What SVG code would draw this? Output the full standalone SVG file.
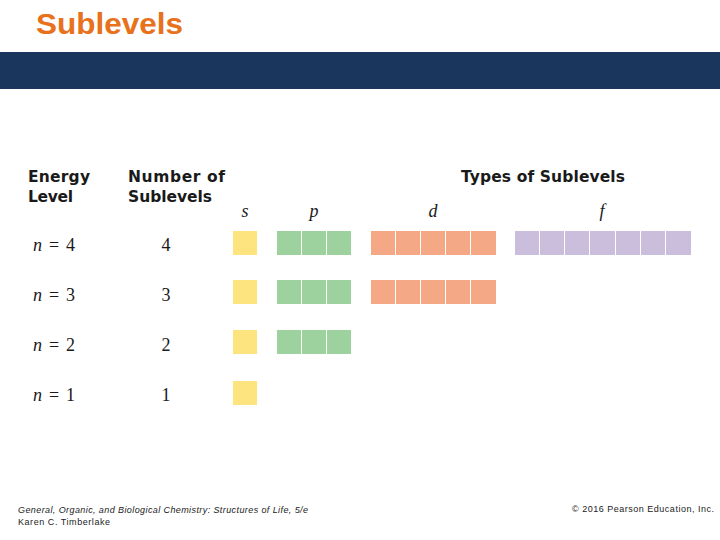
<svg xmlns="http://www.w3.org/2000/svg" width="720" height="540" viewBox="0 0 720 540">
<style>
.title{font-family:"Liberation Sans",Arial,sans-serif;font-weight:bold;font-size:30px;fill:#e8711c}
.hdr{font-family:"DejaVu Sans","Liberation Sans",sans-serif;font-weight:bold;font-size:15.5px;fill:#1a1a1a}
.sub{font-family:"Liberation Serif","Times New Roman",serif;font-style:italic;font-size:18px;fill:#1a1a1a}
.num{font-family:"Liberation Serif","Times New Roman",serif;font-size:18px;fill:#1a1a1a}
.foot{font-family:"Liberation Sans",Arial,sans-serif;font-size:9px;fill:#222}
.s{fill:#fde47f}.p{fill:#9dd29e}.d{fill:#f4a886}.f{fill:#cbbedd}
</style>
<rect x="0" y="0" width="720" height="540" fill="#ffffff"/>
<g id="title"><text class="title" x="36" y="34" textLength="147" lengthAdjust="spacingAndGlyphs">Sublevels</text></g>
<rect id="banner" x="0" y="52" width="720" height="37" fill="#1b365d"/>
<g id="headers">
<text class="hdr" x="28" y="182" textLength="62">Energy</text>
<text class="hdr" x="28" y="202" textLength="45">Level</text>
<text class="hdr" x="128" y="182" textLength="97">Number of</text>
<text class="hdr" x="128" y="202" textLength="84">Sublevels</text>
<text class="hdr" x="461" y="182" textLength="164">Types of Sublevels</text>
</g>
<g id="sublabels" text-anchor="middle">
<text class="sub" x="245" y="217">s</text>
<text class="sub" x="314" y="217">p</text>
<text class="sub" x="433" y="217">d</text>
<text class="sub" x="602" y="217">f</text>
</g>
<g id="row4">
<text class="num" x="33" y="251" textLength="42"><tspan font-style="italic">n</tspan> = 4</text>
<text class="num" x="166" y="251" text-anchor="middle">4</text>
<rect class="s" x="233" y="231" width="24" height="24"/>
<rect class="p" x="277" y="231" width="24" height="24"/><rect class="p" x="302" y="231" width="24" height="24"/><rect class="p" x="327" y="231" width="24" height="24"/>
<rect class="d" x="371" y="231" width="24" height="24"/><rect class="d" x="396" y="231" width="24" height="24"/><rect class="d" x="421" y="231" width="24" height="24"/><rect class="d" x="446" y="231" width="24" height="24"/><rect class="d" x="471" y="231" width="25" height="24"/>
<rect class="f" x="515" y="231" width="24" height="24"/><rect class="f" x="540" y="231" width="24" height="24"/><rect class="f" x="565" y="231" width="24" height="24"/><rect class="f" x="590" y="231" width="25" height="24"/><rect class="f" x="616" y="231" width="24" height="24"/><rect class="f" x="641" y="231" width="24" height="24"/><rect class="f" x="666" y="231" width="25" height="24"/>
</g>
<g id="row3">
<text class="num" x="33" y="301" textLength="42"><tspan font-style="italic">n</tspan> = 3</text>
<text class="num" x="166" y="301" text-anchor="middle">3</text>
<rect class="s" x="233" y="280" width="24" height="24"/>
<rect class="p" x="277" y="280" width="24" height="24"/><rect class="p" x="302" y="280" width="24" height="24"/><rect class="p" x="327" y="280" width="24" height="24"/>
<rect class="d" x="371" y="280" width="24" height="24"/><rect class="d" x="396" y="280" width="24" height="24"/><rect class="d" x="421" y="280" width="24" height="24"/><rect class="d" x="446" y="280" width="24" height="24"/><rect class="d" x="471" y="280" width="25" height="24"/>
</g>
<g id="row2">
<text class="num" x="33" y="351" textLength="42"><tspan font-style="italic">n</tspan> = 2</text>
<text class="num" x="166" y="351" text-anchor="middle">2</text>
<rect class="s" x="233" y="330" width="24" height="24"/>
<rect class="p" x="277" y="330" width="24" height="24"/><rect class="p" x="302" y="330" width="24" height="24"/><rect class="p" x="327" y="330" width="24" height="24"/>
</g>
<g id="row1">
<text class="num" x="33" y="401" textLength="42"><tspan font-style="italic">n</tspan> = 1</text>
<text class="num" x="166" y="401" text-anchor="middle">1</text>
<rect class="s" x="233" y="381" width="24" height="24"/>
</g>
<g id="connectors"></g>
<g id="footer">
<text class="foot" x="18" y="513" font-style="italic" textLength="290">General, Organic, and Biological Chemistry: Structures of Life, 5/e</text>
<text class="foot" x="18" y="525" textLength="92">Karen C. Timberlake</text>
<text class="foot" x="572" y="512" textLength="142">© 2016 Pearson Education, Inc.</text>
</g>
</svg>
